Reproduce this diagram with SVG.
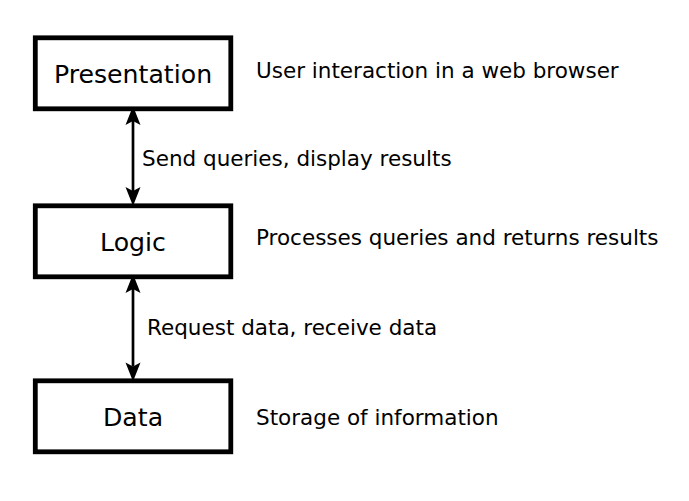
<svg xmlns="http://www.w3.org/2000/svg" width="689" height="501" viewBox="0 0 689 501">
<style>
.box{fill:#fff;stroke:#000;stroke-width:4.8}
.lbl{font-family:"DejaVu Sans",sans-serif;font-size:25.2px;fill:#000;text-anchor:middle}
.note{font-family:"DejaVu Sans",sans-serif;font-size:21.5px;fill:#000}
.conn{stroke:#000;stroke-width:2.7;fill:none;marker-start:url(#ah);marker-end:url(#ah)}
</style>
<defs>
<marker id="ah" viewBox="-20 -9 21 18" refX="-15" refY="0" markerWidth="21" markerHeight="18" markerUnits="userSpaceOnUse" orient="auto-start-reverse">
<path d="M0,0 L-19,-7.5 L-15,0 L-19,7.5 Z" fill="#000"/>
</marker>
</defs>
<rect width="689" height="501" fill="#fff"/>
<g id="connectors">
<line class="conn" x1="133" y1="121" x2="133" y2="191"/>
<line class="conn" x1="133" y1="289" x2="133" y2="366.5"/>
</g>
<g id="presentation">
<rect class="box" x="35.3" y="37.8" width="195.5" height="71"/>
<text class="lbl" x="133" y="83.3">Presentation</text>
</g>
<g id="logic">
<rect class="box" x="35.3" y="205.8" width="195.5" height="71"/>
<text class="lbl" x="133" y="251.3">Logic</text>
</g>
<g id="data">
<rect class="box" x="35.3" y="380.8" width="195.5" height="71"/>
<text class="lbl" x="133" y="426">Data</text>
</g>
<g id="notes">
<text class="note" x="256" y="77.7">User interaction in a web browser</text>
<text class="note" x="142" y="166">Send queries, display results</text>
<text class="note" x="256" y="245">Processes queries and returns results</text>
<text class="note" x="147" y="335">Request data, receive data</text>
<text class="note" x="256" y="425">Storage of information</text>
</g>
</svg>
